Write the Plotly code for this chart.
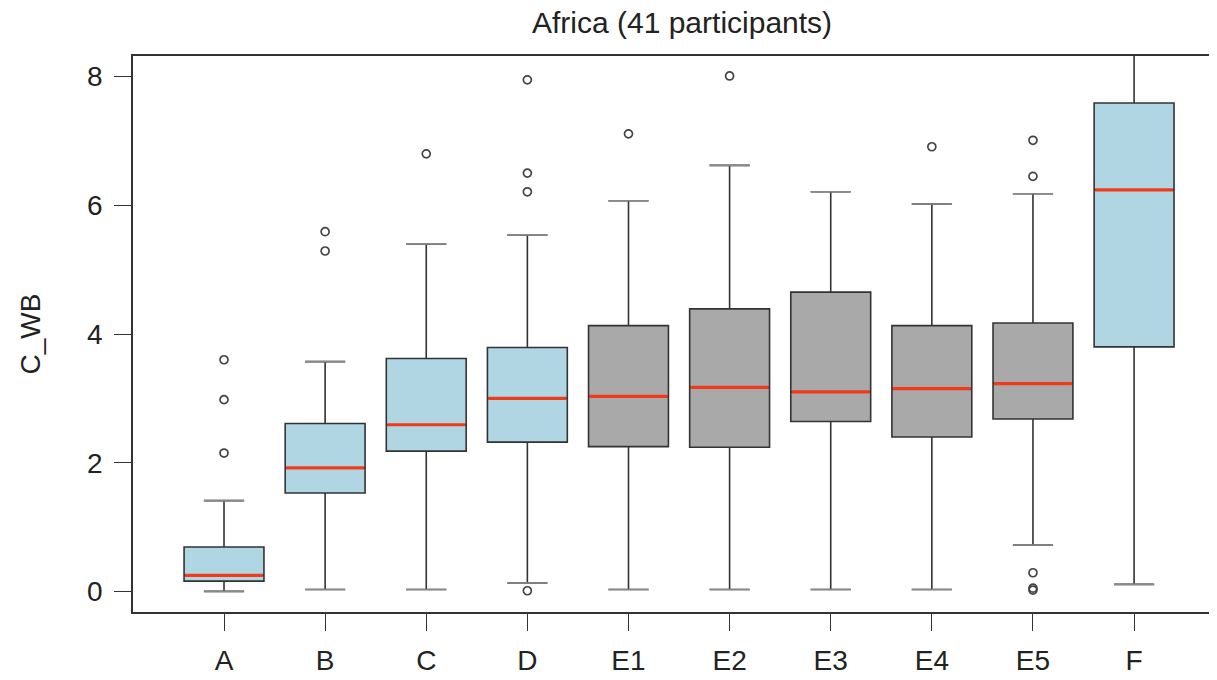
import plotly.graph_objects as go

categories = ["A", "B", "C", "D", "E1", "E2", "E3", "E4", "E5", "F"]
lower_whisker = [0.00, 0.03, 0.03, 0.13, 0.03, 0.03, 0.03, 0.03, 0.72, 0.11]
q1 = [0.16, 1.53, 2.18, 2.32, 2.25, 2.24, 2.64, 2.40, 2.68, 3.80]
medians = [0.25, 1.92, 2.59, 3.00, 3.03, 3.17, 3.10, 3.15, 3.23, 6.24]
q3 = [0.69, 2.61, 3.62, 3.79, 4.13, 4.39, 4.65, 4.13, 4.17, 7.59]
upper_whisker = [1.41, 3.57, 5.40, 5.54, 6.07, 6.62, 6.21, 6.02, 6.18, 9.00]
box_colors = ["#B0D6E4"] * 4 + ["#A9A9A9"] * 5 + ["#B0D6E4"]

outlier_cat = ["A", "A", "A", "B", "B", "C", "D", "D", "D", "D",
               "E1", "E2", "E4", "E5", "E5", "E5", "E5", "E5"]
outlier_val = [3.60, 2.98, 2.15, 5.59, 5.29, 6.80, 7.95, 6.50, 6.21, 0.01,
               7.11, 8.01, 6.91, 7.01, 6.45, 0.29, 0.05, 0.02]

pos = {c: i + 1 for i, c in enumerate(categories)}
BOX_W = 0.79
CAP_W = 0.40

fig = go.Figure()

for i, c in enumerate(categories):
    fig.add_trace(go.Box(
        x=[pos[c]], q1=[q1[i]], median=[medians[i]], q3=[q3[i]],
        lowerfence=[lower_whisker[i]], upperfence=[upper_whisker[i]],
        width=BOX_W, fillcolor=box_colors[i],
        line=dict(color="#333333", width=1.6),
        boxpoints=False, showlegend=False, name=c,
    ))

# whisker caps
cap_x, cap_y = [], []
for i, c in enumerate(categories):
    p = pos[c]
    for v in (lower_whisker[i], upper_whisker[i]):
        cap_x += [p - CAP_W / 2, p + CAP_W / 2, None]
        cap_y += [v, v, None]
fig.add_trace(go.Scatter(x=cap_x, y=cap_y, mode="lines",
                         line=dict(color="#8a8a8a", width=1.6),
                         showlegend=False, hoverinfo="skip"))

# medians
med_x, med_y = [], []
for i, c in enumerate(categories):
    p = pos[c]
    med_x += [p - BOX_W / 2 + 0.01, p + BOX_W / 2 - 0.01, None]
    med_y += [medians[i], medians[i], None]
fig.add_trace(go.Scatter(x=med_x, y=med_y, mode="lines",
                         line=dict(color="#F03A1A", width=3.2),
                         showlegend=False, hoverinfo="skip"))

# outliers
fig.add_trace(go.Scatter(
    x=[pos[c] for c in outlier_cat], y=outlier_val, mode="markers",
    marker=dict(symbol="circle-open", size=8, color="#444444",
                line=dict(width=1.7, color="#444444")),
    showlegend=False, cliponaxis=True,
))

font_family = "Liberation Sans, Arial, sans-serif"
FS = 28
fig.update_layout(
    width=1209, height=672,
    margin=dict(l=125, r=0, t=48, b=68),
    paper_bgcolor="white", plot_bgcolor="white",
    font=dict(family=font_family, color="#222222", size=FS),
    title=dict(text="Africa (41 participants)", x=0.5065, xref="paper",
               y=1, yref="container", yanchor="top", pad=dict(t=4),
               xanchor="center", font=dict(size=30, color="#222222")),
    xaxis=dict(range=[0.1, 10.82], tickmode="array",
               tickvals=[pos[c] for c in categories], ticktext=categories,
               ticks="outside", ticklen=17, tickwidth=1.4, tickcolor="#333333",
               showline=True, linecolor="#333333", linewidth=1.6, mirror=True,
               showgrid=False, zeroline=False, ticklabelstandoff=6,
               tickfont=dict(size=FS)),
    yaxis=dict(range=[-0.32, 8.32], tickmode="array", tickvals=[0, 2, 4, 6, 8],
               ticks="outside", ticklen=17, tickwidth=1.4, tickcolor="#333333",
               showline=True, linecolor="#333333", linewidth=1.6, mirror=False,
               showgrid=False, zeroline=False, ticklabelstandoff=6,
               tickfont=dict(size=FS),
               title=dict(text="C_WB", standoff=38, font=dict(size=FS))),
)

fig.write_html("out.html")
